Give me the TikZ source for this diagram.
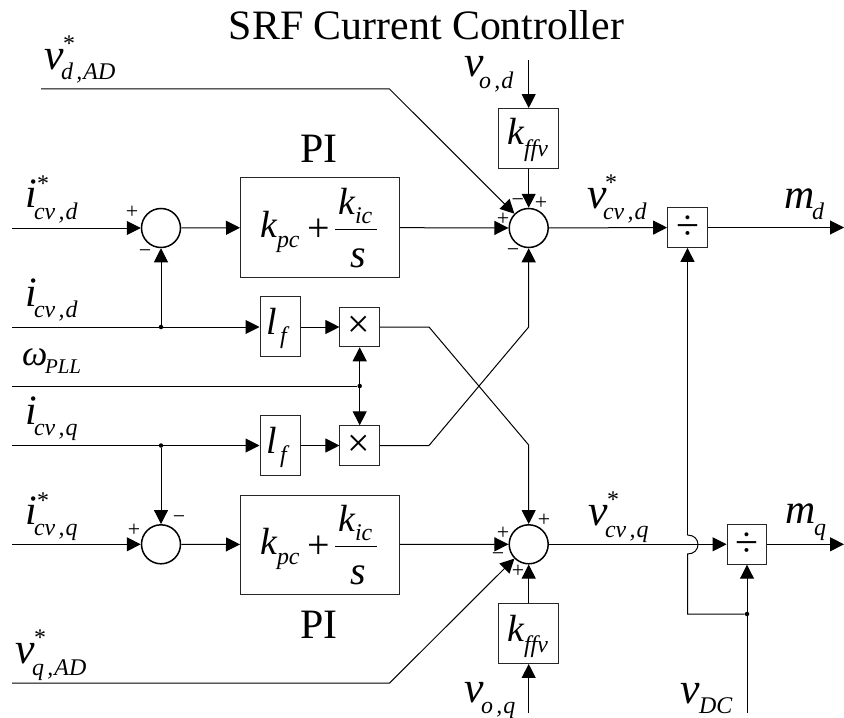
\documentclass[tikz,border=0pt]{standalone}
\usepackage{fontspec}
\setmainfont{Liberation Serif}
\usetikzlibrary{arrows.meta}
\newcommand{\fsz}[1]{\fontsize{#1}{#1}\selectfont}
\newcommand{\cmk}{\kern3.5bp,\kern1bp}
\newcommand{\gK}{{\fsz{38}k}}
\newcommand{\gV}{{\fsz{44}v}}
\newcommand{\gL}{{\fsz{38}l}}
% main glyph, subscript, sub dx, sub drop
\newcommand{\SubLab}[4]{\hbox{\fsz{42}\itshape\rlap{#1}\hspace{#3bp}\raisebox{-#4bp}{\fsz{24}#2}}}
% as above plus star dx, star rise
\newcommand{\StarLab}[6]{\hbox{\fsz{42}\itshape\rlap{#1}\rlap{\hspace{#5bp}\raisebox{#6bp}{\fsz{24}\upshape *}}\hspace{#3bp}\raisebox{-#4bp}{\fsz{24}#2}}}
\tikzset{
  wire/.style={line width=1bp,black},
  flow/.style={wire,-{Triangle[length=14bp,width=14bp]}},
  blockbox/.style={draw=black!85,line width=1bp,inner sep=0pt,fill=white},
  sumnode/.style={circle,draw=black,line width=1.5bp,minimum size=39bp,inner sep=0pt},
  dotnode/.style={circle,fill=black,minimum size=4.5bp,inner sep=0pt},
  lab/.style={anchor=base west,inner sep=0pt,outer sep=0pt},
  sign/.style={inner sep=0pt,font=\fsz{22}},
  big/.style={inner sep=0pt,font=\fsz{42}},
}
\newcommand{\PIBox}[2]{%
  \node[blockbox,minimum width=159bp,minimum height=99bp] (#1) at (320,#2) {};
  \node[lab] (#1k) at (260,#2+10) {\SubLab{\gK}{pc}{17}{10}};
  \node[inner sep=0pt,font=\fsz{40}] (#1p) at (319,#2+3) {+};
  \coordinate (#1fa) at (335,#2+1.8);
  \coordinate (#1fb) at (377,#2+1.8);
  \draw[line width=1.2bp] (#1fa) -- (#1fb);
  \node[lab] (#1n) at (338,#2-13.5) {\SubLab{\gK}{ic}{17}{9.5}};
  \node[lab] (#1d) at (350,#2+39.5) {\fsz{40}\itshape s};
}
\begin{document}
\begin{tikzpicture}[x=1bp,y=-1bp]
\useasboundingbox (0,0) rectangle (844,718);
\node[anchor=base,inner sep=0pt,font=\fsz{42}] (title) at (426.5,40) {SRF Current Controller};

% sums
\node[sumnode] (s1) at (161,228) {};
\node[sumnode] (s2) at (528.7,228) {};
\node[sumnode] (s3) at (161,544.3) {};
\node[sumnode] (s4) at (528.7,544.3) {};

% PI blocks
\PIBox{pia}{227.5}
\PIBox{pib}{544.5}
\node[big,anchor=base] (pitop) at (319,163) {PI};
\node[big,anchor=base] (pibot) at (319,638) {PI};

% small blocks
\node[blockbox,minimum width=40bp,minimum height=59.5bp] (lfa) at (280,326.7) {};
\node[blockbox,minimum width=40bp,minimum height=59.5bp] (lfb) at (280,445.3) {};
\node[blockbox,minimum size=39.5bp] (xa) at (359.7,327) {};
\node[blockbox,minimum size=39.5bp] (xb) at (359.7,445.5) {};
\node[inner sep=0pt,font=\fsz{40}] (xat) at (358.8,327) {×};
\node[inner sep=0pt,font=\fsz{40}] (xbt) at (358.8,445.5) {×};
\node[blockbox,minimum width=60bp,minimum height=59.5bp] (kfa) at (528.7,138.3) {};
\node[blockbox,minimum width=60bp,minimum height=59.5bp] (kfb) at (528.7,633.7) {};
\node[blockbox,minimum size=39.8bp] (da) at (687.5,227.5) {};
\node[blockbox,minimum size=39.8bp] (db) at (747,544.3) {};
\node[big] (dat) at (687.5,227.5) {÷};
\node[big] (dbt) at (747,544.3) {÷};

% junctions
\node[dotnode] (j1) at (161,327) {};
\node[dotnode] (j2) at (359.7,386) {};
\node[dotnode] (j3) at (161,445.5) {};
\node[dotnode] (j4) at (747,614) {};

% free ends and bends
\coordinate (in1) at (12,228);
\coordinate (in2) at (12,327);
\coordinate (in3) at (12,386);
\coordinate (in4) at (12,445.5);
\coordinate (in5) at (12,544.3);
\coordinate (vda) at (41,89);
\coordinate (vdb) at (389.5,89);
\coordinate (vqa) at (12,683);
\coordinate (vqb) at (389.6,683);
\coordinate (voa) at (528.7,60);
\coordinate (vob) at (528.7,713);
\coordinate (vdc) at (747,713);
\coordinate (oa) at (844,227.5);
\coordinate (ob) at (844,544.3);
\coordinate (cr1) at (429,327);
\coordinate (cr2) at (528.7,445);
\coordinate (cr3) at (429,445.5);
\coordinate (cr4) at (528.7,327);
\coordinate (bu1) at (687.5,535);
\coordinate (bu2) at (687.5,554);
\coordinate (bc1) at (701.5,535);
\coordinate (bc2) at (701.5,554);
\coordinate (co) at (687.5,614);

% connectors
\draw[flow] (in1) -- (s1);
\draw[flow] (s1) -- (pia);
\draw[flow] (pia) -- (s2);
\draw[flow] (j1) -- (s1);
\draw[flow] (in2) -- (lfa.west|-in2);
\draw[flow] (lfa.east|-in2) -- (xa);
\draw[wire] (in3) -- (j2);
\draw[flow] (j2) -- (xa);
\draw[flow] (j2) -- (xb);
\draw[flow] (in4) -- (lfb.west|-in4);
\draw[flow] (lfb.east|-in4) -- (xb);
\draw[flow] (j3) -- (s3);
\draw[flow] (in5) -- (s3);
\draw[flow] (s3) -- (pib);
\draw[flow] (pib) -- (s4);
\draw[flow] (vda) -- (vdb) -- (s2.north west);
\draw[flow] (vqa) -- (vqb) -- (s4.south west);
\draw[flow] (voa) -- (kfa);
\draw[flow] (kfa) -- (s2);
\draw[flow] (vob) -- (kfb);
\draw[flow] (kfb) -- (s4);
\draw[flow] (xa) -- (cr1) -- (cr2) -- (s4);
\draw[flow] (xb) -- (cr3) -- (cr4) -- (s2);
\draw[flow] (s2) -- (da);
\draw[flow] (da) -- (oa);
\draw[flow] (s4) -- (db);
\draw[flow] (db) -- (ob);
\draw[flow] (bu1) -- (da);
\draw[wire] (bu1) .. controls (bc1) and (bc2) .. (bu2) -- (co) -- (j4);
\draw[flow] (vdc) -- (db);

% signs
\node[sign] (g1) at (132,212) {+};
\node[sign] (g2) at (145,254) {−};
\node[sign] (g3) at (517.7,202.7) {−};
\node[sign] (g4) at (541,203) {+};
\node[sign] (g5) at (503,219) {+};
\node[sign] (g6) at (513,253) {−};
\node[sign] (g7) at (134,530) {+};
\node[sign] (g8) at (179,520) {−};
\node[sign] (g9) at (544,520) {+};
\node[sign] (g10) at (503,533) {+};
\node[sign] (g11) at (498,557) {−};
\node[sign] (g12) at (518,571) {+};

% labels
\node[lab] (l1) at (44,70) {\StarLab{\gV}{d\cmk AD}{17}{10}{19}{18}};
\node[lab] (l2) at (25,207) {\StarLab{i}{cv\cmk d}{9}{12}{12}{16}};
\node[lab] (l3) at (25,306) {\SubLab{i}{cv\cmk d}{9}{11}};
\node[lab] (l4) at (22,365) {\hbox{\fsz{36}\itshape\rlap{ω}\hspace{23bp}\raisebox{-8bp}{\fsz{21}PLL}}};
\node[lab] (l5) at (25,424) {\SubLab{i}{cv\cmk q}{9}{11}};
\node[lab] (l6) at (25,524) {\StarLab{i}{cv\cmk q}{9}{11}{12}{16}};
\node[lab] (l7) at (15,663) {\StarLab{\gV}{q\cmk AD}{17}{12}{19}{18}};
\node[lab] (l8) at (464,77) {\SubLab{\gV}{o\cmk d}{15}{12}};
\node[lab] (l9) at (587,208) {\StarLab{\gV}{cv\cmk d}{16}{11}{18}{18}};
\node[lab] (l10) at (784,208) {\SubLab{m}{d}{28}{11}};
\node[lab] (l11) at (588,525) {\StarLab{\gV}{cv\cmk q}{17}{12}{19}{18}};
\node[lab] (l12) at (785,523) {\SubLab{m}{q}{29}{12}};
\node[lab] (l13) at (464,702) {\SubLab{\gV}{o\cmk q}{17}{11}};
\node[lab] (l14) at (680,703) {\SubLab{\gV}{DC}{19}{10}};
\node[lab] (k1) at (507,145) {\SubLab{\gK}{ffv}{17}{12}};
\node[lab] (k2) at (507,641) {\SubLab{\gK}{ffv}{17}{11}};
\node[lab] (f1) at (266,334) {\SubLab{\gL}{f}{14}{9}};
\node[lab] (f2) at (266,453) {\SubLab{\gL}{f}{14}{9}};
\end{tikzpicture}
\end{document}
